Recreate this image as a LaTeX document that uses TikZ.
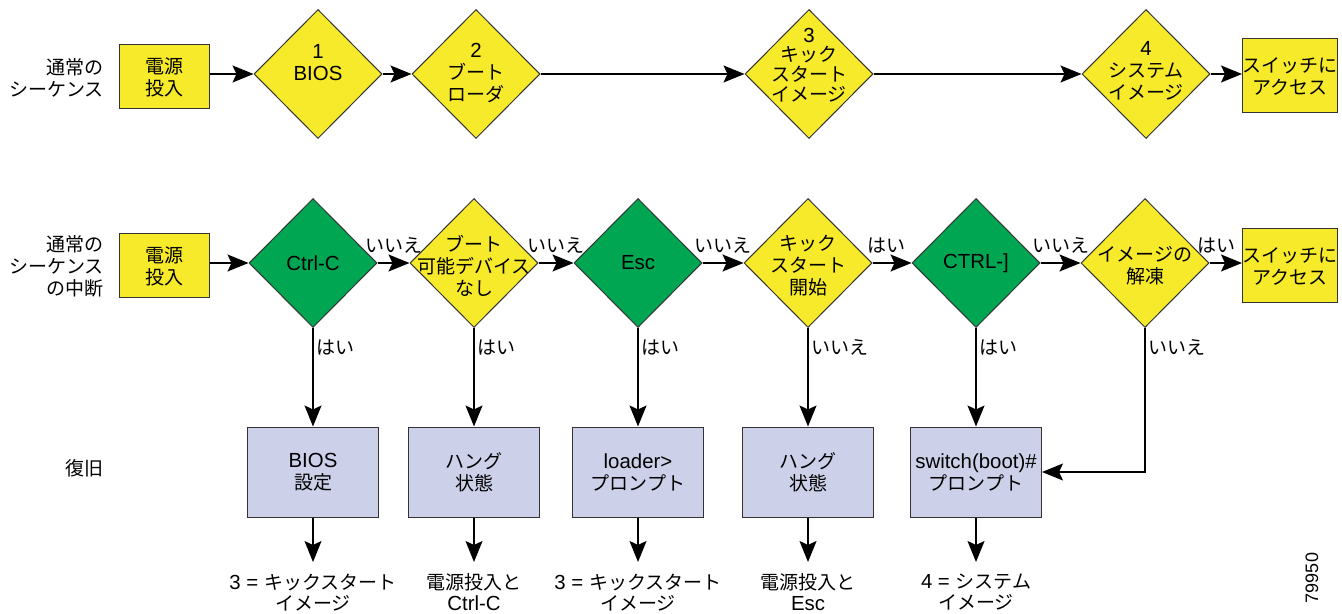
\documentclass[tikz,border=0pt]{standalone}
\usepackage{fontspec}
\setmainfont{Liberation Sans}
\newfontfamily\jpfont{Noto Sans CJK JP}
\newfontfamily\enfont{Liberation Sans}
\usetikzlibrary{shapes.geometric}
\usetikzlibrary{arrows.meta}
\definecolor{ylw}{RGB}{246,234,42}
\definecolor{grn}{RGB}{0,166,81}
\definecolor{lav}{RGB}{204,209,233}
\newcommand{\EN}[1]{{\enfont\fontsize{10.2}{11}\selectfont #1}}

\begin{document}
\begin{tikzpicture}[x=0.5pt,y=-0.5pt,
  every node/.style={font=\jpfont\fontsize{9.5}{11}\selectfont, align=center},
  dia/.style={diamond, draw=black!80, line width=0.5pt, minimum width=64pt, minimum height=64.5pt, inner sep=0pt},
  pwr/.style={draw=black!80, line width=0.5pt, fill=ylw, inner sep=0pt, minimum width=45pt, minimum height=32pt},
  acc/.style={draw=black!80, line width=0.5pt, fill=ylw, inner sep=0pt, minimum width=44.5pt, minimum height=37pt},
  rec/.style={draw=black!80, line width=0.5pt, fill=lav, inner sep=0pt, minimum width=65.5pt, minimum height=45pt},
  res/.style={anchor=north, inner sep=0pt, outer ysep=6pt, font=\jpfont\fontsize{9.5}{10.4}\selectfont},
  lbl/.style={inner sep=1.5pt},
  arr/.style={-{Stealth[length=10.5pt,width=8.5pt,inset=2pt]}, line width=0.7pt}]
\useasboundingbox (0,0) rectangle (1342,614);
% top row
\node[anchor=east, align=right] (n1) at (111,78) {通常の\\シーケンス};
\node[pwr] (p1) at (164,77) {電源\\投入};
\node[dia, fill=ylw] (d1) at (318,74) {};
\node (d1t) at (318,63) {\EN{1}\\\EN{BIOS}};
\node[dia, fill=ylw] (d2) at (476,74) {};
\node (d2t) at (476,73) {\EN{2}\\ブート\\ローダ};
\node[dia, fill=ylw] (d3) at (809,74) {};
\node[font=\jpfont\fontsize{9.5}{9.8}\selectfont] (d3t) at (809,65) {\EN{3}\\キック\\スタート\\イメージ};
\node[dia, fill=ylw] (d4) at (1146,74) {};
\node (d4t) at (1146,71) {\EN{4}\\システム\\イメージ};
\node[acc] (e1) at (1290,76) {スイッチに\\アクセス};
\draw[arr] (d1.west -| p1.east) -- (d1.west);
\draw[arr] (d1.east) -- (d2.west);
\draw[arr] (d2.east) -- (d3.west);
\draw[arr] (d3.east) -- (d4.west);
\draw[arr] (d4.east) -- (d4.east -| e1.west);
% middle row
\node[anchor=east, align=right] (n2) at (111,266) {通常の\\シーケンス\\の中断};
\node[pwr] (p2) at (164,266) {電源\\投入};
\node[dia, fill=grn] (c1) at (313,263) {\EN{Ctrl-C}};
\node[dia, fill=ylw] (c2) at (474,263) {};
\node (c2t) at (474,266) {ブート\\可能デバイス\\なし};
\node[dia, fill=grn] (c3) at (638,263) {\EN{Esc}};
\node[dia, fill=ylw] (c4) at (808,263) {};
\node (c4t) at (808,266) {キック\\スタート\\開始};
\node[dia, fill=grn] (c5) at (976,263) {\EN{CTRL-]}};
\node[dia, fill=ylw] (c6) at (1145,263) {};
\node (c6t) at (1145,266) {イメージの\\解凍};
\node[acc] (e2) at (1290,266) {スイッチに\\アクセス};
\draw[arr] (c1.west -| p2.east) -- (c1.west);
\draw[arr] (c1.east) -- (c2.west) node[lbl, midway, above=3pt] (y1) {いいえ};
\draw[arr] (c2.east) -- (c3.west) node[lbl, midway, above=3pt] (y2) {いいえ};
\draw[arr] (c3.east) -- (c4.west) node[lbl, midway, above=3pt] (y3) {いいえ};
\draw[arr] (c4.east) -- (c5.west) node[lbl, pos=0.35, above=3pt] (y4) {はい};
\draw[arr] (c5.east) -- (c6.west) node[lbl, midway, above=3pt] (y5) {いいえ};
\draw[arr] (c6.east) -- (c6.east -| e2.west) node[lbl, pos=0.2, above=3pt] (y6) {はい};
% recovery row
\node[anchor=east] (n3) at (111,468) {復旧};
\node[rec] (b1) at (313,472) {\EN{BIOS}\\設定};
\node[rec] (b2) at (474,472) {ハング\\状態};
\node[rec] (b3) at (638,472) {\EN{loader>}\\プロンプト};
\node[rec] (b4) at (808,472) {ハング\\状態};
\node[rec] (b5) at (976,472) {\EN{switch(boot)\#}\\プロンプト};
\draw[arr] (c1.south) -- (b1.north) node[lbl, pos=0.2, right] (y7) {はい};
\draw[arr] (c2.south) -- (b2.north) node[lbl, pos=0.2, right] (y8) {はい};
\draw[arr] (c3.south) -- (b3.north) node[lbl, pos=0.2, right] (y9) {はい};
\draw[arr] (c4.south) -- (b4.north) node[lbl, pos=0.2, right] (y10) {いいえ};
\draw[arr] (c5.south) -- (b5.north) node[lbl, pos=0.2, right] (y11) {はい};
\draw[arr] (c6.south) |- (b5.east) node[lbl, pos=0.066, right] (y12) {いいえ};
% what comes next
\node[res] (r1) at (313,562) {\EN{3 = }キックスタート\\イメージ};
\node[res] (r2) at (474,562) {電源投入と\\\EN{Ctrl-C}};
\node[res] (r3) at (638,562) {\EN{3 = }キックスタート\\イメージ};
\node[res] (r4) at (808,562) {電源投入と\\\EN{Esc}};
\node[res] (r5) at (976,562) {\EN{4 = }システム\\イメージ};
\draw[arr] (b1.south) -- (r1.north);
\draw[arr] (b2.south) -- (r2.north);
\draw[arr] (b3.south) -- (r3.north);
\draw[arr] (b4.south) -- (r4.north);
\draw[arr] (b5.south) -- (r5.north);
\node[rotate=90, font=\enfont\fontsize{9}{10}\selectfont] (fig) at (1312,578) {79950};
\end{tikzpicture}
\end{document}
